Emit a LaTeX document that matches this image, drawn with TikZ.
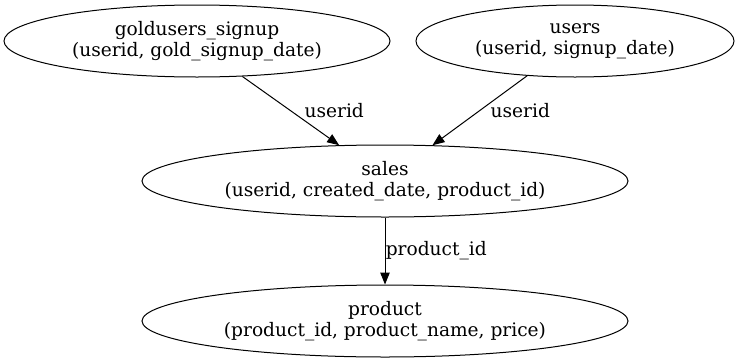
\documentclass[tikz,border=0pt]{standalone}
\usepackage{fontspec}
\setmainfont{DejaVu Serif}
\usetikzlibrary{shapes.geometric, arrows.meta}

\tikzset{
    table/.style={draw, line width=1pt, ellipse, inner sep=0pt, align=center, font=\fontsize{18.6}{21}\selectfont},
    link/.style={line width=1pt, -{Triangle[length=12pt, width=9.5pt]}},
    key/.style={anchor=west, font=\fontsize{18.6}{21}\selectfont}
}

\begin{document}
\begin{tikzpicture}[x=1pt, y=-1pt]
    \useasboundingbox (0,0) rectangle (736,362);

    % Tables
    \node[table, minimum width=386pt, minimum height=72pt] (goldusers) at (197, 41) {goldusers\_signup\\(userid, gold\_signup\_date)};
    \node[table, minimum width=318pt, minimum height=72pt] (users) at (575, 41) {users\\(userid, signup\_date)};
    \node[table, minimum width=486pt, minimum height=72pt] (sales) at (385, 181) {sales\\(userid, created\_date, product\_id)};
    \node[table, minimum width=486pt, minimum height=72pt] (product) at (385, 321) {product\\(product\_id, product\_name, price)};

    % Keys
    \draw[link] (goldusers.-38) -- (sales.142) node[key, midway, xshift=10pt] {userid};
    \draw[link] (users.216) -- (sales.37.5) node[key, midway, xshift=7pt] {userid};
    \draw[link] (sales.south) -- (product.north) node[key, midway, xshift=-3pt] {product\_id};
\end{tikzpicture}
\end{document}
